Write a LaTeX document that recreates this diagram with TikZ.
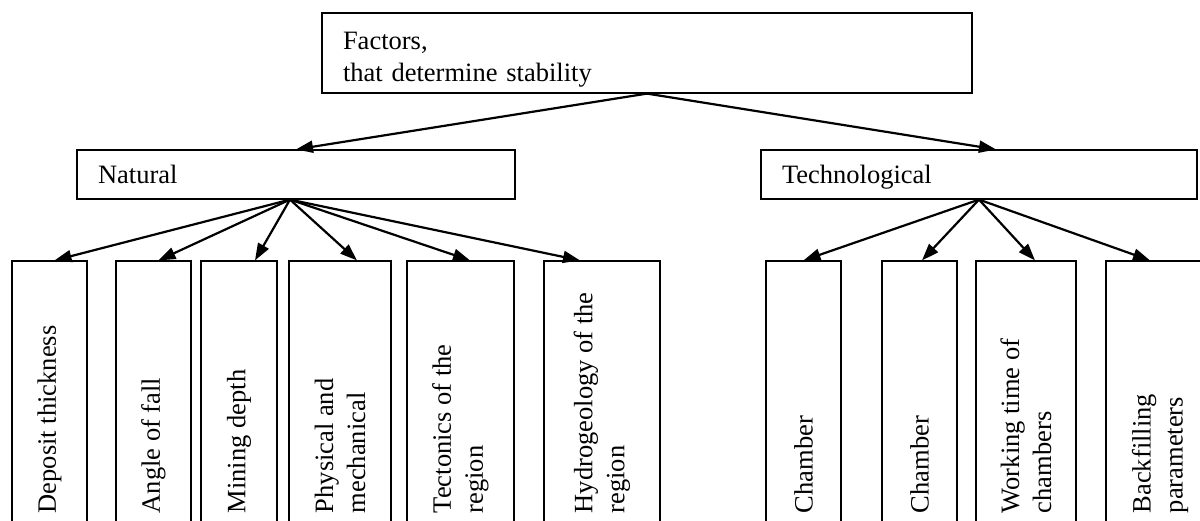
\documentclass[tikz,border=0pt]{standalone}
\usepackage{fontspec}
\setmainfont{Liberation Serif}
\usetikzlibrary{calc,arrows.meta}

\begin{document}
\begin{tikzpicture}[x=0.5pt,y=-0.5pt,
  font=\fontsize{13.25pt}{16pt}\selectfont,
  box/.style={draw,line width=0.6pt,align=left,inner xsep=10.5pt},
  leaf/.style={draw,line width=0.6pt,minimum height=140pt,inner sep=0pt},
  lbl/.style={rotate=90,anchor=west,align=left,inner sep=0pt},
  conn/.style={-{Triangle[length=8.5pt,width=6pt]},line width=1.1pt}]
\clip (0,0) rectangle (1200,520);
\node[box,text width=304pt,minimum height=40pt,text height=11pt,text depth=15pt] (fac) at (647,53) {Factors,\\that determine stability};
\node[box,text width=198pt,minimum height=24.5pt,text depth=0pt] (nat) at (296,174.5) {Natural};
\node[box,text width=197pt,minimum height=24.5pt,text depth=0pt] (tech) at (979,174.5) {Technological};
\draw[conn] (fac.south) -- (nat.north);
\draw[conn] (fac.south) -- ($(tech.north)+(17,0)$);
\foreach \n/\x/\w/\txt in {dep/49.5/37.5/{Deposit thickness},ang/153.5/37.5/{Angle of fall},
  mine/239/38/{Mining depth},phys/340/51/{Physical and\\mechanical},tect/460.5/53.5/{Tectonics of the\\region},
  hyd/602/58/{Hydrogeology of the\\region},cham/803.5/37.5/{Chamber},camb/919.5/37.5/{Chamber},
  work/1026/50/{Working time of\\chambers},back/1160/54/{Backfilling\\parameters}}{
  \node[leaf,minimum width=\w pt] (\n) at (\x,401) {};
  \node[lbl] at ($(\n.south)+(0,-28)$) {\txt};}
\foreach \n/\dx in {dep/5,ang/5,mine/16,phys/17,tect/9.5,hyd/-22}
  \draw[conn] ($(nat.south)+(-6,0)$) -- ($(\n.north)+(\dx,0)$);
\foreach \n/\dx in {cham/0,camb/2.5,work/9,back/-10}
  \draw[conn] (tech.south) -- ($(\n.north)+(\dx,0)$);
\end{tikzpicture}
\end{document}
